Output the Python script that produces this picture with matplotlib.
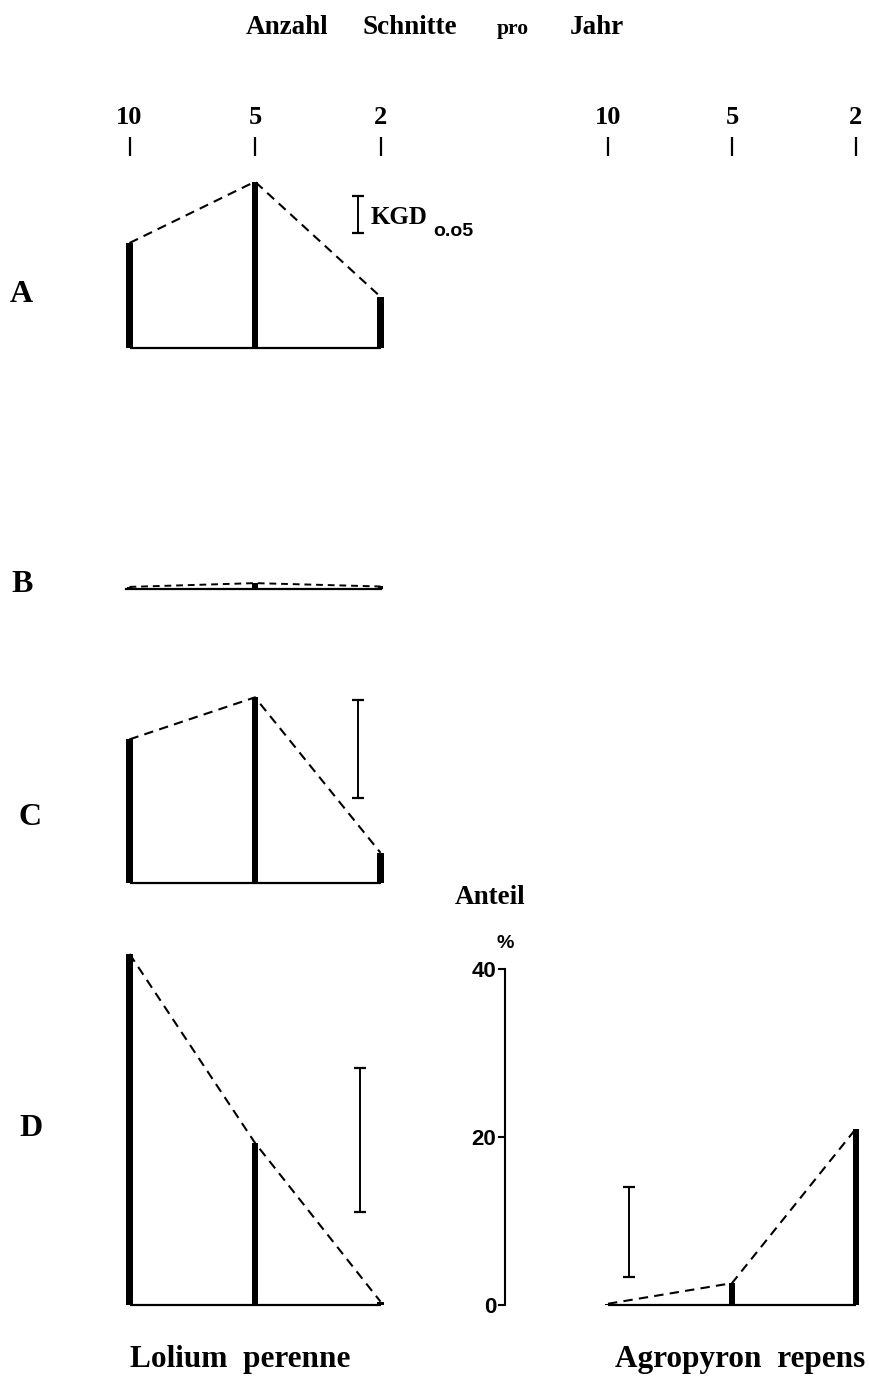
import matplotlib
matplotlib.use("Agg")
import matplotlib.pyplot as plt

# Schnitthaeufigkeit (Anzahl Schnitte pro Jahr)
cuts = ["10", "5", "2"]

# Lolium perenne, Panels A-D (Anteil in %-Einheiten der D-Skala)
lol_A = [12.5, 19.8, 6.1]
lol_B = [0.25, 0.7, 0.3]
lol_C = [17.1, 22.1, 3.6]
lol_D = [41.8, 19.3, 0.4]
# Agropyron repens, Panel D
agr_D = [0.15, 2.6, 21.0]

# KGD 0.05 (untere, obere Grenze)
kgd_A = (13.7, 18.1)
kgd_C = (10.1, 21.8)
kgd_D = (11.1, 28.2)
kgd_agr = (3.3, 14.0)

y_ticks = [0, 20, 40]

W, H, DPI = 869, 1380, 100
PX = 8.4  # Pixel pro Prozent

fig = plt.figure(figsize=(W / DPI, H / DPI), dpi=DPI)
fig.patch.set_facecolor("white")

SERIF = "Liberation Serif"
SANS = "Liberation Sans"


def panel(x0, dx, base, top, xlo=-0.5, xhi=2.5):
    ax = fig.add_axes([(x0 + xlo * dx) / W, 1 - base / H,
                       (xhi - xlo) * dx / W, (base - top) / H])
    ax.set_xlim(xlo, xhi)
    ax.set_ylim(0, (base - top) / PX)
    ax.patch.set_visible(False)
    for s in ax.spines.values():
        s.set_visible(False)
    ax.set_xticks([])
    ax.set_yticks([])
    return ax


def draw(ax, vals, dashes=(4.5, 3), lw=1.5):
    x = range(len(vals))
    ax.plot([0, 2], [0, 0], color="black", lw=1.6, clip_on=False, solid_capstyle="butt")
    ax.bar(x, vals, width=0.055, color="black", clip_on=False)
    ax.plot(x, vals, color="black", lw=lw, dashes=dashes, clip_on=False)


def kgd(ax, xpos, rng):
    lo, hi = rng
    ax.errorbar([xpos], [(lo + hi) / 2], yerr=[(hi - lo) / 2], color="black",
                lw=1.4, capsize=4, capthick=1.6, clip_on=False)


def top_scale(ax):
    ax.xaxis.tick_top()
    ax.set_xticks(range(3))
    ax.set_xticklabels(cuts, family=SERIF, weight="bold", fontsize=19)
    ax.tick_params(axis="x", direction="in", length=14, width=1.6, pad=5.5)


LX0, LDX = 129.5, 125.5
RX0, RDX = 608, 124

# Panel A (mit Skala oben)
axA = panel(LX0, LDX, 348, 137)
draw(axA, lol_A)
kgd(axA, 1.82, kgd_A)
axA.text(1.92, 15.5, "KGD", family=SERIF, weight="bold", fontsize=18, va="center", ha="left")
axA.text(2.42, 13.9, "o.o5", family=SANS, weight="bold", fontsize=14, va="center", ha="left")
top_scale(axA)

# Panel B
axB = panel(LX0, LDX, 589, 560)
axB.plot([-0.03, 2.0], [0, 0], color="black", lw=1.6, clip_on=False)
axB.bar(range(3), lol_B, width=0.04, color="black", clip_on=False)
axB.plot(range(3), lol_B, color="black", lw=1.4, dashes=(3.5, 2.5), clip_on=False)

# Panel C
axC = panel(LX0, LDX, 883, 680)
draw(axC, lol_C)
kgd(axC, 1.82, kgd_C)

# Panel D (Lolium)
axD = panel(LX0, LDX, 1305, 940)
draw(axD, lol_D)
kgd(axD, 1.84, kgd_D)

# rechte Spalte: Agropyron repens mit %-Achse
axR = panel(RX0, RDX, 1305, 137, xlo=-1.0, xhi=2.3)
draw(axR, agr_D)
kgd(axR, 0.17, kgd_agr)
axR.spines["left"].set_visible(True)
axR.spines["left"].set_position(("data", -0.83))
axR.spines["left"].set_bounds(0, 40)
axR.spines["left"].set_linewidth(1.5)
axR.set_yticks(y_ticks)
axR.set_yticklabels([str(v) for v in y_ticks], family=SANS, weight="bold", fontsize=16)
axR.tick_params(axis="y", direction="out", length=5, width=1.5, pad=1.5)
top_scale(axR)

# Texte
def ftext(x, y, s, **kw):
    fig.text(x / W, 1 - y / H, s, **kw)

tkw = dict(family=SERIF, weight="bold", va="baseline", ha="left")
ftext(246, 34, "Anzahl", fontsize=19.5, **tkw)
ftext(362, 34, "Schnitte", fontsize=19.5, **tkw)
ftext(497, 34, "pro", fontsize=15.5, **tkw)
ftext(570, 34, "Jahr", fontsize=19.5, **tkw)

for lab, (x, y) in zip("ABCD", [(21, 294), (22, 585), (30, 818), (31, 1128)]):
    ftext(x, y, lab, family=SERIF, weight="bold", fontsize=23, ha="center", va="center")

ftext(490, 898, "Anteil", family=SERIF, weight="bold", fontsize=19.5, ha="center", va="center")
ftext(505, 944, "%", family=SANS, weight="bold", fontsize=14, ha="center", va="center")

ftext(240, 1360, "Lolium  perenne", family=SERIF, weight="bold", fontsize=22.5, ha="center", va="center")
ftext(740, 1360, "Agropyron  repens", family=SERIF, weight="bold", fontsize=22.5, ha="center", va="center")

fig.savefig("out.png", dpi=DPI, facecolor="white")
